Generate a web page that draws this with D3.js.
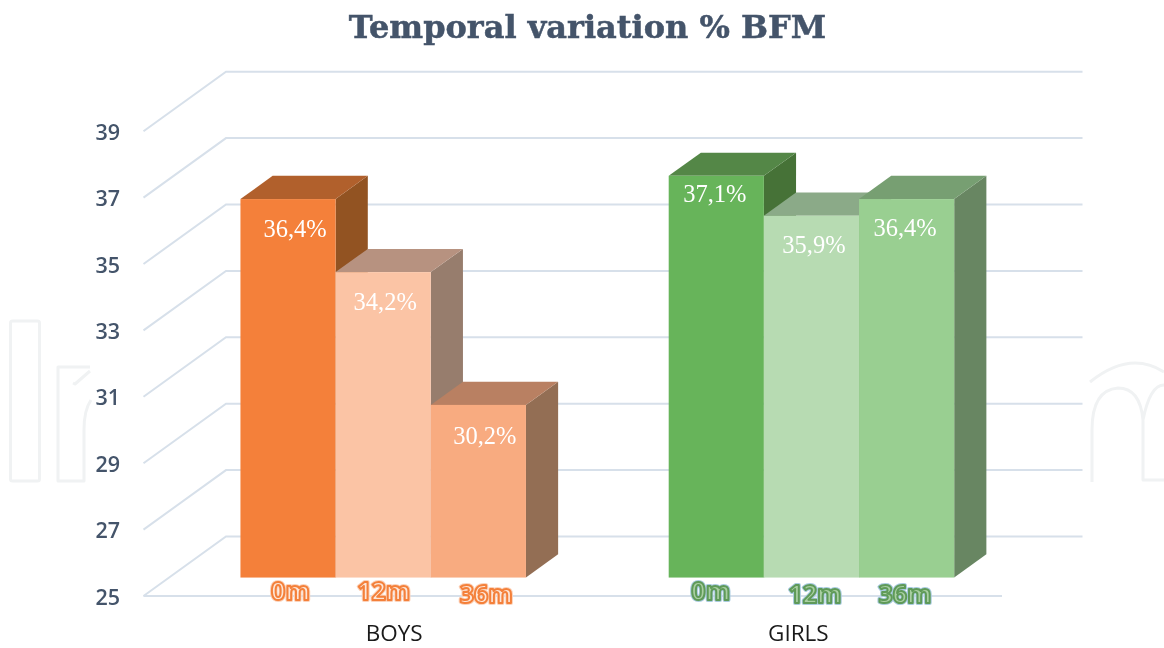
<!DOCTYPE html>
<html><head><meta charset="utf-8">
<script src="https://cdn.jsdelivr.net/npm/d3@7"></script>
<style>html,body{margin:0;padding:0;background:#fff}svg{display:block;filter:blur(0.4px)}</style>
</head><body><svg id="c" width="1164" height="648"></svg>
<script>
const title = "Temporal variation % BFM";
const groups = ["BOYS", "GIRLS"];
const periods = ["0m", "12m", "36m"];
const boysValues = [36.4, 34.2, 30.2];
const girlsValues = [37.1, 35.9, 36.4];
const yTicks = [25, 27, 29, 31, 33, 35, 37, 39];
const boysFront = ["#F4803A", "#FBC4A5", "#F8AB80"];
const boysTop = ["#B1602C", "#B79280", "#B98062"];
const boysSide = ["#925322", "#977D6D", "#936E54"];
const girlsFront = ["#67B45A", "#B7DBB2", "#99CF91"];
const girlsTop = ["#548747", "#8BAA88", "#779F72"];
const girlsSide = ["#467237", "#7F9C7B", "#688662"];

// layout
const W = 1164, H = 648;
const frontL = 143.5, frontR = 1000, lineR = 1002, depthX = 82.5, depthY = 59.5;
const barFrac = 0.31, barDepth = 0.39;
const svg = d3.select("#c");
const y = d3.scaleLinear().domain([25, 39]).range([596, 131.2]);
const xGroup = d3.scaleBand().domain(groups).range([frontL, frontR]);
const xPeriod = d3.scaleBand().domain(periods).range([0, xGroup.bandwidth() * 2 / 3]);
const valueNudge = [[[7, 29], [2, 29], [6.5, 31]], [[-1.5, 18], [2.5, 29], [-1.5, 28]]];
const periodNudge = [[[2.5, 13.5], [0.5, 13.5], [8, 16.5]], [[-5.5, 13.5], [3.5, 16.5], [-1.5, 16.5]]];

// watermark
const wm = svg.append("g").attr("fill", "none").attr("stroke", "#F0F2F3").attr("stroke-width", 3).attr("stroke-linejoin", "round");
wm.append("rect").attr("x", 10.5).attr("y", 321).attr("width", 29).attr("height", 160).attr("rx", 2);
wm.append("path").attr("d", "M90 367H58V481H84V430Q84 410 91 400M73 383L75 384L90 371");
wm.append("path").attr("d", "M1090 382Q1130 350 1164 372M1164 385Q1150 385 1143 420V480H1164M1143 420Q1140 388 1118 388Q1092 390 1092 430V482");

// grid
const grid = svg.append("g").attr("fill", "none").attr("stroke", "#D7E0EA").attr("stroke-width", 2);
grid.selectAll("path.g").data(yTicks).join("path").attr("class", "g")
  .attr("d", d => `M${frontL} ${y(d)}L${frontL + depthX} ${y(d) - depthY}H${lineR + depthX - 2}`);
grid.append("line").attr("x1", frontL).attr("x2", lineR).attr("y1", y(25)).attr("y2", y(25));

// tick labels
svg.append("g").selectAll("text").data(yTicks).join("text")
  .attr("x", 120).attr("y", d => y(d)).attr("dy", "0.4em").attr("text-anchor", "end")
  .attr("font-family", "'Open Sans'").attr("font-weight", 600).attr("font-size", 21.5).attr("fill", "#44546A").text(d => d);

// bars
const series = [
  { g: groups[0], v: boysValues, f: boysFront, t: boysTop, s: boysSide },
  { g: groups[1], v: girlsValues, f: girlsFront, t: girlsTop, s: girlsSide }
];
const dx = depthX * barFrac, dy = depthY * barFrac;
const ddx = depthX * barDepth, ddy = depthY * barDepth;
const gw = xPeriod.range()[1];
series.forEach((sr, si) => {
  const x0 = xGroup(sr.g) + (xGroup.bandwidth() - gw) / 2 + dx;
  const g = svg.append("g");
  periods.forEach((p, i) => {
    const l = x0 + xPeriod(p), w = xPeriod.bandwidth(), r = l + w;
    const top = y(sr.v[i]) - dy, bot = y(25) - dy;
    g.append("path").attr("fill", sr.s[i]).attr("d", `M${r} ${top}L${r + ddx} ${top - ddy}V${bot - ddy}L${r} ${bot}Z`);
    g.append("path").attr("fill", sr.t[i]).attr("d", `M${l} ${top}L${l + ddx} ${top - ddy}H${r + ddx}L${r} ${top}Z`);
    g.append("rect").attr("x", l).attr("y", top).attr("width", w).attr("height", bot - top).attr("fill", sr.f[i]);
  });
  periods.forEach((p, i) => {
    const c = x0 + xPeriod(p) + xPeriod.bandwidth() / 2;
    const top = y(sr.v[i]) - dy, bot = y(25) - dy;
    svg.append("text").attr("x", c + valueNudge[si][i][0]).attr("y", top + valueNudge[si][i][1]).attr("dy", "0.35em")
      .attr("text-anchor", "middle").attr("font-family", "'Liberation Serif'").attr("font-size", 24.5)
      .attr("fill", "#fff").text(sr.v[i].toFixed(1).replace(".", ",") + "%");
    const px = c + periodNudge[si][i][0], py = bot + periodNudge[si][i][1];
    const lab = (stroke, width, fill) => svg.append("text").attr("x", px).attr("y", py).attr("dy", "0.36em")
      .attr("text-anchor", "middle").attr("font-family", "'Open Sans'").attr("font-weight", 700).attr("font-size", 25)
      .attr("fill", fill).attr("stroke", stroke).attr("stroke-width", width).attr("stroke-linejoin", "round").text(p);
    if (si === 0) { lab("#FBD3BC", 4, "none"); lab("#F4803A", 2, "#FDE6D8"); }
    else { lab("#A9CBE0", 4, "none"); lab("#5F9A58", 2, "#A9CFA3"); }
  });
  svg.append("text").attr("x", xGroup(sr.g) + xGroup.bandwidth() / 2 + (si === 0 ? 36.5 : 12.5)).attr("y", 633).attr("dy", "0.36em")
    .attr("text-anchor", "middle").attr("font-family", "'Open Sans'").attr("font-size", 22.5).attr("fill", "#1a1a1a").text(sr.g);
});

// title
svg.append("text").attr("x", 587.5).attr("y", 26).attr("dy", "0.36em").attr("text-anchor", "middle")
  .attr("font-family", "'DejaVu Serif'").attr("font-weight", 700).attr("font-size", 32)
  .attr("stroke", "#44546A").attr("stroke-width", 0.5).attr("fill", "#44546A").text(title);
</script></body></html>
